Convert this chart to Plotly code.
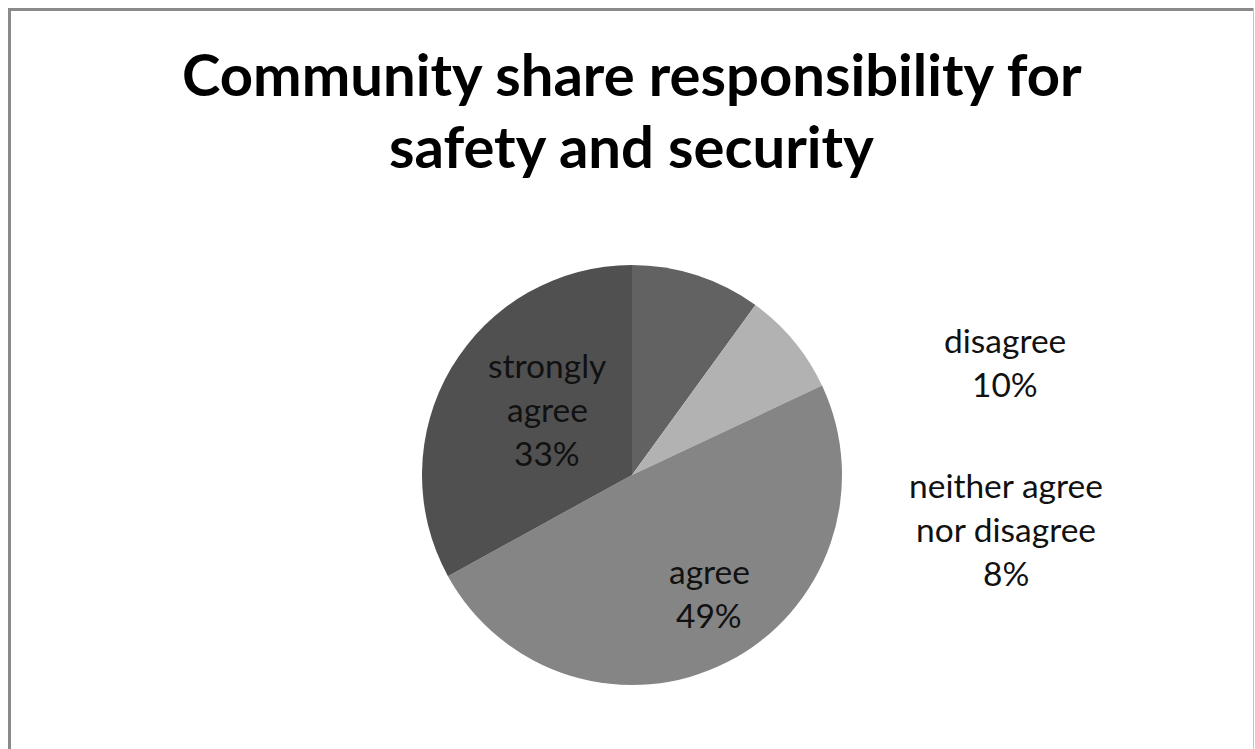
import plotly.graph_objects as go

# Survey responses (percent of respondents), clockwise from 12 o'clock
categories = ["disagree", "neither agree nor disagree", "agree", "strongly agree"]
shares = [10, 8, 49, 33]
label_lines = [["disagree"], ["neither agree", "nor disagree"], ["agree"], ["strongly", "agree"]]
title_lines = ["Community share responsibility for", "safety and security"]

# Styling / layout (pixels)
W, H = 1255, 749
colors = ["#626262", "#b2b2b2", "#858585", "#505050"]
cx, cy, r = 632, 475, 210
label_anchor = [(1005, 353), (1006, 498), (709, 584), (547, 378)]  # centre x, first baseline
line_step = 44
label_size = 33.5
title_size = 58
title_baselines = [96, 168]
FONT = "Lato"


def px_x(x):
    return x / W


def px_y(y):
    return 1 - y / H


fig = go.Figure(
    go.Pie(
        labels=categories,
        values=shares,
        sort=False,
        direction="clockwise",
        rotation=0,
        marker=dict(colors=colors, line=dict(width=0)),
        textinfo="none",
        hoverinfo="label+percent",
        showlegend=False,
        domain=dict(
            x=[px_x(cx - r), px_x(cx + r)],
            y=[px_y(cy + r), px_y(cy - r)],
        ),
    )
)

annotations = []
# Title, one annotation per line
for text, base in zip(title_lines, title_baselines):
    annotations.append(
        dict(
            text=f"<b>{text}</b>",
            x=px_x(631.5),
            y=px_y(base - 0.387 * title_size),
            xref="paper",
            yref="paper",
            xanchor="center",
            yanchor="middle",
            showarrow=False,
            font=dict(family=FONT, size=title_size, color="#000000"),
        )
    )

# Data labels: category name lines followed by the percentage
total = sum(shares)
for lines, val, (ax, ab) in zip(label_lines, shares, label_anchor):
    pct = round(100 * val / total)
    rows = lines + [f"{pct}%"]
    for i, row in enumerate(rows):
        base = ab + i * line_step
        annotations.append(
            dict(
                text=row,
                x=px_x(ax),
                y=px_y(base - 0.387 * label_size),
                xref="paper",
                yref="paper",
                xanchor="center",
                yanchor="middle",
                showarrow=False,
                font=dict(family=FONT, size=label_size, color="#111111"),
            )
        )

# Chart-area frame
shapes = [
    dict(type="line", xref="paper", yref="paper",
         x0=px_x(8), x1=px_x(1254), y0=px_y(9.5), y1=px_y(9.5),
         line=dict(color="#8a8a8a", width=3)),
    dict(type="line", xref="paper", yref="paper",
         x0=px_x(9.5), x1=px_x(9.5), y0=px_y(8), y1=px_y(H + 5),
         line=dict(color="#8a8a8a", width=3)),
    dict(type="line", xref="paper", yref="paper",
         x0=px_x(1253.5), x1=px_x(1253.5), y0=px_y(8), y1=px_y(H + 5),
         line=dict(color="#c4c4c4", width=1)),
]

fig.update_layout(
    width=W,
    height=H,
    margin=dict(l=0, r=0, t=0, b=0),
    paper_bgcolor="#ffffff",
    plot_bgcolor="#ffffff",
    annotations=annotations,
    shapes=shapes,
    font=dict(family=FONT),
)

fig.write_html("out.html")
